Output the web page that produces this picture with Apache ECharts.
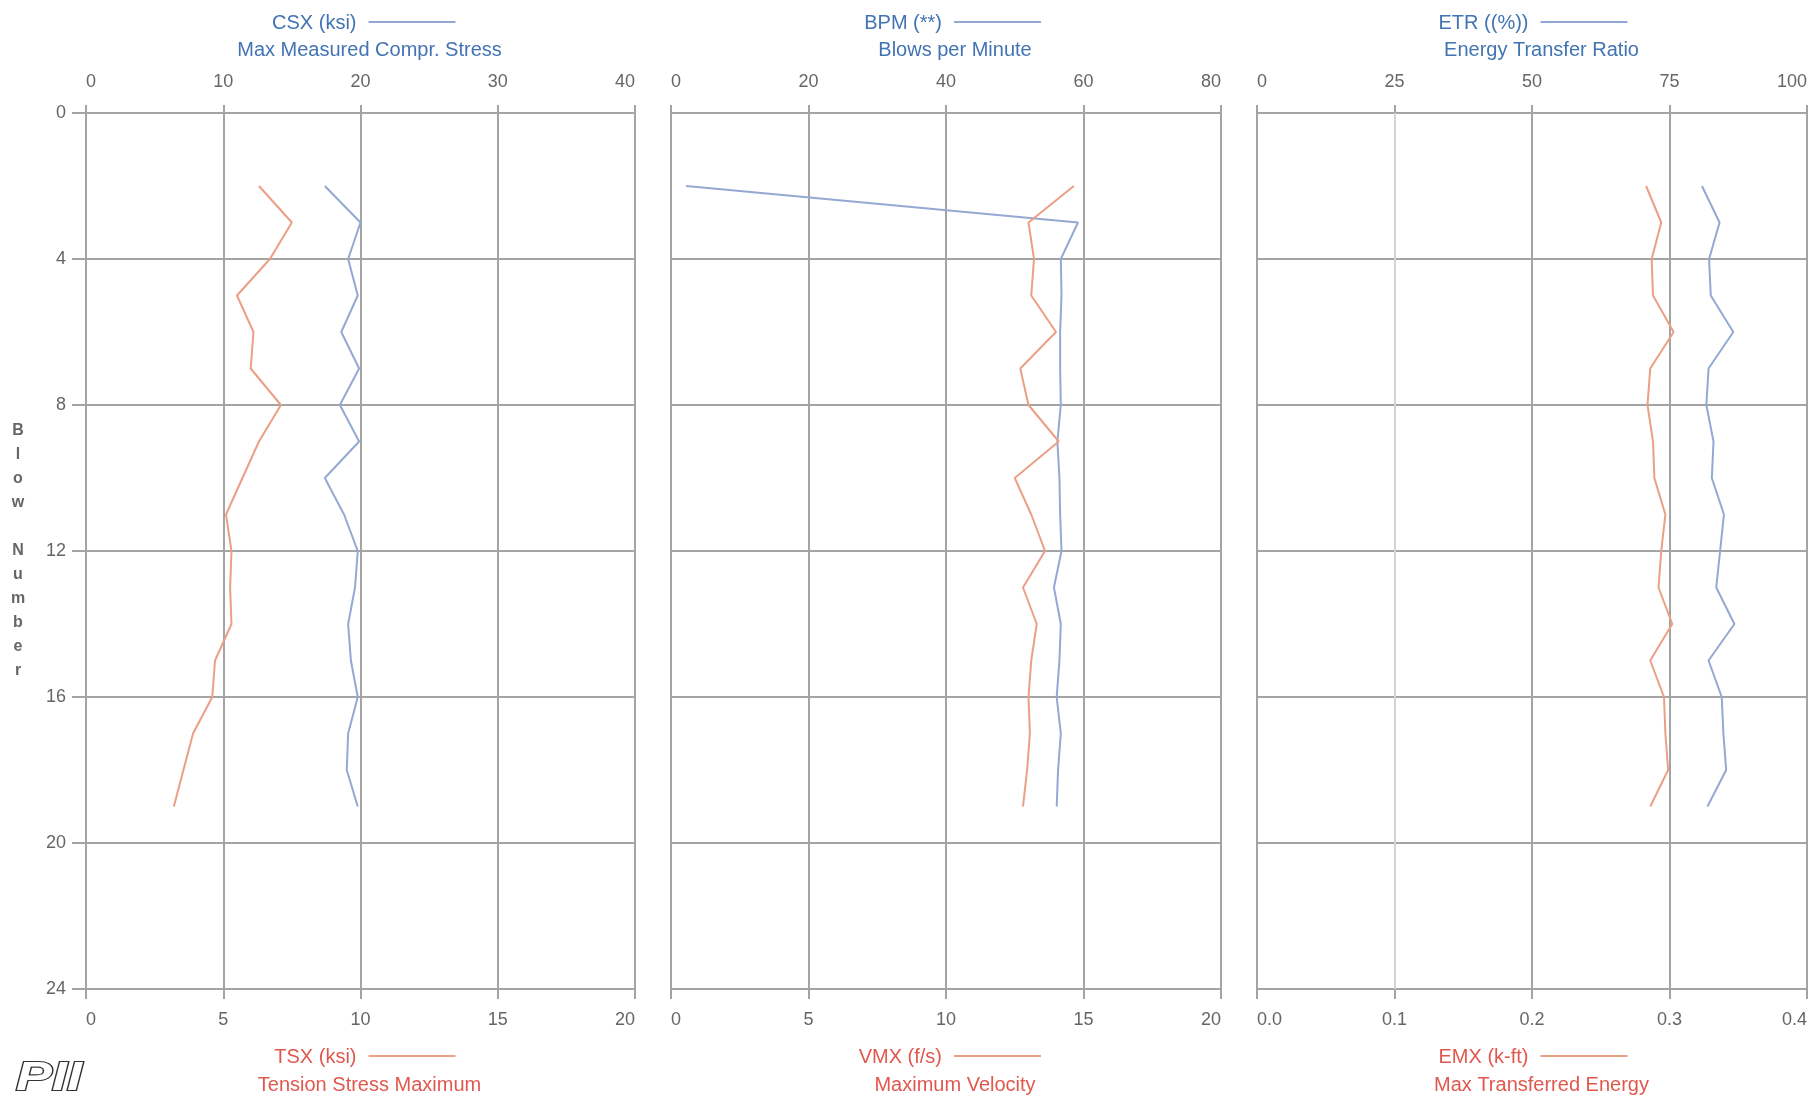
<!DOCTYPE html>
<html>
<head>
<meta charset="utf-8">
<script src="https://cdn.jsdelivr.net/npm/echarts@6/dist/echarts.min.js"></script>
<style>
html,body{margin:0;padding:0;background:#fff;overflow:hidden;}
#chart{width:1810px;height:1096px;}
</style>
</head>
<body>
<div id="chart"></div>
<script>
// ---- data ----
var blows = [2,3,4,5,6,7,8,9,10,11,12,13,14,15,16,17,18,19];
var csx = [17.4,20.0,19.1,19.8,18.6,19.9,18.5,19.9,17.4,18.8,19.8,19.6,19.1,19.3,19.8,19.1,19.0,19.8];
var tsx = [6.3,7.5,6.7,5.5,6.1,6.0,7.1,6.3,5.7,5.1,5.3,5.25,5.3,4.7,4.6,3.9,3.55,3.2];
var bpm = [2.2,59.2,56.7,56.8,56.6,56.6,56.7,56.2,56.5,56.6,56.8,55.7,56.7,56.5,56.1,56.7,56.3,56.1];
var vmx = [14.65,13.0,13.2,13.1,14.0,12.7,13.0,14.1,12.5,13.1,13.6,12.8,13.3,13.1,13.0,13.05,12.95,12.8];
var etr = [80.9,84.1,82.2,82.5,86.6,82.1,81.7,83.0,82.7,84.9,84.2,83.5,86.8,82.1,84.5,84.8,85.3,81.9];
var emx = [0.283,0.294,0.287,0.288,0.303,0.286,0.284,0.288,0.289,0.297,0.294,0.292,0.302,0.286,0.296,0.297,0.299,0.286];

var topTitles = ['CSX (ksi)','BPM (**)','ETR ((%))'];
var topSubs = ['Max Measured Compr. Stress','Blows per Minute','Energy Transfer Ratio'];
var botTitles = ['TSX (ksi)','VMX (f/s)','EMX (k-ft)'];
var botSubs = ['Tension Stress Maximum','Maximum Velocity','Max Transferred Energy'];
var topRanges = [[0,40,10],[0,80,20],[0,100,25]];
var botRanges = [[0,20,5],[0,20,5],[0,0.4,0.1]];
var yRange = [0,24,4];
var yName = 'Blow Number';

// ---- layout ----
var FONT = '"Liberation Sans", Arial, sans-serif';
var gridLefts = [86,671,1257];
var gridWidths = [549,550,551];
var gridTop = 113, gridHeight = 876;
var BLUE_TXT = '#4273b3', RED_TXT = '#e0584e';
var BLUE_LN = '#93a9d3', ORG_LN = '#eb9f85';
var GRID_C = '#a4a4a4';

function pairs(xs){ return xs.map(function(v,i){ return [v, blows[i]]; }); }

var grids = [], xAxes = [], yAxes = [], series = [], graphics = [];
var tops = [csx,bpm,etr], bots = [tsx,vmx,emx];

for (var p=0;p<3;p++){
  if (p===2) grids.push({left:gridLefts[p], top:gridTop, right:2, height:gridHeight, containLabel:false});
  else grids.push({left:gridLefts[p], top:gridTop, width:gridWidths[p], height:gridHeight, containLabel:false});
  var splitColors = GRID_C;
  if (p===2) splitColors = [GRID_C,'#d4d4d4',GRID_C,GRID_C,GRID_C];
  xAxes.push({
    type:'value', gridIndex:p, position:'top',
    min:topRanges[p][0], max:topRanges[p][1], interval:topRanges[p][2],
    axisLine:{show:false},
    axisTick:{show:true, length:8, lineStyle:{color:GRID_C,width:2}},
    axisLabel:{margin:22, color:'#666', fontSize:18, fontFamily:FONT, alignMinLabel:'left', alignMaxLabel:'right'},
    splitLine:{show:true, lineStyle:{color:splitColors,width:2}}
  });
  xAxes.push({
    type:'value', gridIndex:p, position:'bottom',
    min:botRanges[p][0], max:botRanges[p][1], interval:botRanges[p][2],
    axisLine:{show:false},
    axisTick:{show:true, length:10, lineStyle:{color:GRID_C,width:2}},
    axisLabel:{margin:22, color:'#666', fontSize:18, fontFamily:FONT, alignMinLabel:'left', alignMaxLabel:'right',
      formatter: p===2 ? function(v){return v.toFixed(1);} : null},
    splitLine:{show:false}
  });
  yAxes.push({
    type:'value', gridIndex:p, inverse:true,
    min:yRange[0], max:yRange[1], interval:yRange[2],
    axisLine:{show:false},
    axisTick:{show:p===0, length:14, lineStyle:{color:GRID_C,width:2}},
    axisLabel:{show:p===0, margin:20, color:'#666', fontSize:18, fontFamily:FONT},
    splitLine:{show:true, lineStyle:{color:GRID_C,width:2}},
    name: p===0 ? yName.split('').join('\n') : '',
    nameLocation:'middle', nameRotate:0, nameGap:68,
    nameTextStyle:{color:'#666', fontSize:16, fontWeight:'bold', fontFamily:FONT, lineHeight:24, align:'center'}
  });
  series.push({type:'line', xAxisIndex:p*2, yAxisIndex:p, data:pairs(tops[p]), showSymbol:false,
    lineStyle:{color:BLUE_LN,width:2}, itemStyle:{color:BLUE_LN}, animation:false, z:3});
  series.push({type:'line', xAxisIndex:p*2+1, yAxisIndex:p, data:pairs(bots[p]), showSymbol:false,
    lineStyle:{color:ORG_LN,width:2}, itemStyle:{color:ORG_LN}, animation:false, z:3});

  var c = gridLefts[p] + gridWidths[p]/2;
  // top legend titles
  graphics.push({type:'text', x:c-4, y:23, style:{text:topTitles[p], fill:BLUE_TXT, font:'20px '+FONT, textAlign:'right', textVerticalAlign:'middle'}});
  graphics.push({type:'line', shape:{x1:c+8,y1:22,x2:c+95,y2:22}, style:{stroke:BLUE_LN,lineWidth:2}});
  graphics.push({type:'text', x:c+9, y:50, style:{text:topSubs[p], fill:BLUE_TXT, font:'20px '+FONT, textAlign:'center', textVerticalAlign:'middle'}});
  // bottom legend titles
  graphics.push({type:'text', x:c-4, y:1057, style:{text:botTitles[p], fill:RED_TXT, font:'20px '+FONT, textAlign:'right', textVerticalAlign:'middle'}});
  graphics.push({type:'line', shape:{x1:c+8,y1:1056,x2:c+95,y2:1056}, style:{stroke:ORG_LN,lineWidth:2}});
  graphics.push({type:'text', x:c+9, y:1085, style:{text:botSubs[p], fill:RED_TXT, font:'20px '+FONT, textAlign:'center', textVerticalAlign:'middle'}});
}
// logo
graphics.push({type:'text', x:16, y:1079, scaleX:1.35, style:{text:'PII', fill:'#fff', stroke:'#333', lineWidth:2.2, font:'italic bold 40px '+FONT, textAlign:'left', textVerticalAlign:'middle'}});

var chart = echarts.init(document.getElementById('chart'), null, {renderer:'canvas'});
chart.setOption({
  backgroundColor:'#fff',
  animation:false,
  grid:grids, xAxis:xAxes, yAxis:yAxes, series:series,
  graphic:graphics
});
</script>
</body>
</html>
